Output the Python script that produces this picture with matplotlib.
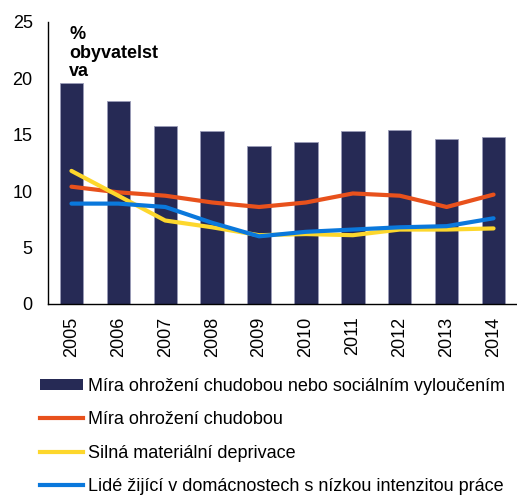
import matplotlib.pyplot as plt
from matplotlib.patches import Patch
from matplotlib.lines import Line2D

plt.rcParams['font.family'] = ['Liberation Sans', 'DejaVu Sans']

# data
years = ['2005', '2006', '2007', '2008', '2009', '2010', '2011', '2012', '2013', '2014']
arope = [19.6, 18.0, 15.8, 15.3, 14.0, 14.4, 15.3, 15.4, 14.6, 14.8]
poverty = [10.4, 9.9, 9.6, 9.0, 8.6, 9.0, 9.8, 9.6, 8.6, 9.7]
deprivation = [11.8, 9.6, 7.4, 6.8, 6.1, 6.2, 6.1, 6.6, 6.6, 6.7]
low_work = [8.9, 8.9, 8.6, 7.2, 6.0, 6.4, 6.6, 6.8, 6.9, 7.6]

labels = ['Míra ohrožení chudobou nebo sociálním vyloučením',
          'Míra ohrožení chudobou',
          'Silná materiální deprivace',
          'Lidé žijící v domácnostech s nízkou intenzitou práce']

bar_col = '#262a55'
orange = '#e8511c'
yellow = '#fdd72c'
blue = '#0a78dc'

fig = plt.figure(figsize=(5.17, 4.97), dpi=100)
ax = fig.add_axes([48 / 517, 1 - 304 / 497, 1 - 48 / 517, (304 - 22) / 497])

x = list(range(len(years)))
ax.bar(x, arope, width=0.5, color=bar_col, edgecolor='#9a9cb8', linewidth=0.6, zorder=2)
ax.plot(x, poverty, color=orange, lw=3, zorder=3, solid_capstyle='round')
ax.plot(x, deprivation, color=yellow, lw=3, zorder=3, solid_capstyle='round')
ax.plot(x, low_work, color=blue, lw=3, zorder=4, solid_capstyle='round')

ax.set_xlim(-0.5, 9.5)
ax.set_ylim(0, 25)
ax.set_yticks([0, 5, 10, 15, 20, 25])
ax.set_xticks(x)
ax.set_xticklabels(years, rotation=90)
ax.tick_params(length=0, labelsize=13, colors='black')
ax.tick_params(axis='y', pad=11)
ax.tick_params(axis='x', pad=9)
for s in ['top', 'right']:
    ax.spines[s].set_visible(False)
ax.spines['left'].set_linewidth(1)
ax.spines['bottom'].set_linewidth(1)

ax.text(0.045, 0.985, '%\nobyvatelst\nva', transform=ax.transAxes, ha='left', va='top',
        fontsize=13, fontweight='bold', linespacing=1.12)

handles = [Patch(facecolor=bar_col, edgecolor='none'),
           Line2D([], [], color=orange, lw=3),
           Line2D([], [], color=yellow, lw=3),
           Line2D([], [], color=blue, lw=3)]
leg = fig.legend(handles, labels, loc='upper left', bbox_to_anchor=(40 / 517, 1 - 378 / 497),
                 frameon=False, fontsize=13, handlelength=2.4, handleheight=0.55,
                 handletextpad=0.28, labelspacing=0.9, borderpad=0, borderaxespad=0)

fig.savefig('out.png', dpi=100)
